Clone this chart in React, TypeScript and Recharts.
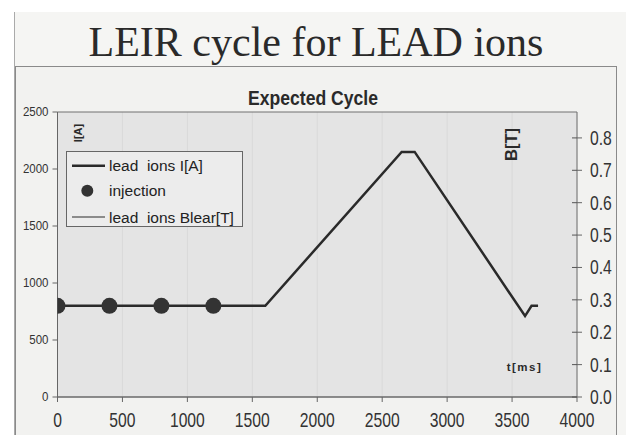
import {
  ComposedChart,
  Line,
  Scatter,
  XAxis,
  YAxis,
  CartesianGrid,
  ReferenceArea,
  Legend,
} from 'recharts';

const timeMs = [0, 1600, 2650, 2750, 3600, 3650, 3700];
const currentA = [800, 800, 2150, 2150, 710, 800, 800];
const fieldT = [0.282, 0.282, 0.757, 0.757, 0.25, 0.282, 0.282];
const injectionMs = [0, 400, 800, 1200];
const injectionA = [800, 800, 800, 800];
const timeTicks = [0, 500, 1000, 1500, 2000, 2500, 3000, 3500, 4000];
const currentTicks = [0, 500, 1000, 1500, 2000, 2500];
const fieldTicks = [0, 0.1, 0.2, 0.3, 0.4, 0.5, 0.6, 0.7, 0.8];

const currentData = timeMs.map((t, i) => ({ t, value: currentA[i] }));
const fieldData = timeMs.map((t, i) => ({ t, value: fieldT[i] }));
const injectionData = injectionMs.map((t, i) => ({ t, value: injectionA[i] }));

const SANS = '"Liberation Sans", Arial, sans-serif';
const INK = '#2a2a2a';

function LeftTick({ x, y, payload }: any) {
  return (
    <g transform={`translate(${x},${y})`}>
      <text textAnchor="end" y={3.8} fontSize={11.5} fill="#333" fontFamily={SANS} transform="scale(1,1.1)">
        {payload.value}
      </text>
    </g>
  );
}

function RightTick({ x, y, payload }: any) {
  return (
    <g transform={`translate(${x},${y})`}>
      <line x1={-18} x2={-13} y1={0} y2={0} stroke="#555" />
      <text y={5.6} fontSize={15.7} fill="#333" fontFamily={SANS} transform="scale(1,1.25)">
        {Number(payload.value).toFixed(1)}
      </text>
    </g>
  );
}

function BottomTick({ x, y, payload }: any) {
  return (
    <g transform={`translate(${x},${y})`}>
      <text textAnchor="middle" y={17.7} fontSize={15.7} fill="#333" fontFamily={SANS} transform="scale(1,1.3)">
        {payload.value}
      </text>
    </g>
  );
}

function LegendBox() {
  return (
    <svg width={177} height={76} style={{ display: 'block' }}>
      <rect x={0.5} y={0.5} width={176} height={75} fill="#ececec" stroke="#666" />
      <line x1={6} x2={39} y1={14.7} y2={14.7} stroke={INK} strokeWidth={2.5} />
      <circle cx={21.3} cy={39.7} r={6} fill="#333" />
      <line x1={6} x2={39} y1={66} y2={66} stroke={INK} strokeWidth={1.2} />
      <g fontFamily={SANS} fontSize={15.5} fill="#222">
        <text x={43} y={20.2} style={{ whiteSpace: 'pre' }}>lead  ions I[A]</text>
        <text x={43} y={45.2}>injection</text>
        <text x={43} y={71.5} style={{ whiteSpace: 'pre' }}>lead  ions Blear[T]</text>
      </g>
    </svg>
  );
}

export default function App() {
  return (
    <div style={{ position: 'absolute', left: 0, top: 0, width: 626, height: 435, background: '#fff', overflow: 'hidden' }}>
      <div style={{ position: 'absolute', left: 14, top: 12, width: 612, height: 423, background: '#f5f5f3', borderLeft: '1px solid #aaa' }} />
      <div style={{ position: 'absolute', left: 15, top: 66, width: 600, height: 380, background: '#f2f2f0', border: '1px solid #8a8a8a' }} />

      <div style={{ position: 'absolute', left: 0, top: 0 }}>
        <ComposedChart width={626} height={435} margin={{ top: 112, right: 0, bottom: 0, left: 0 }}>
          <CartesianGrid horizontal={false} vertical stroke="#d9d9d9" fill="#e4e4e4" fillOpacity={1} yAxisId="left" />
          <XAxis
            type="number"
            dataKey="t"
            domain={[0, 4000]}
            ticks={timeTicks}
            height={38}
            tickSize={5}
            tickMargin={2}
            stroke="#666"
            tick={<BottomTick />}
            allowDataOverflow
          />
          <YAxis
            yAxisId="left"
            type="number"
            domain={[0, 2500]}
            ticks={currentTicks}
            width={57.5}
            tickSize={5}
            tickMargin={4}
            stroke="#666"
            tick={<LeftTick />}
          />
          <YAxis
            yAxisId="right"
            orientation="right"
            type="number"
            domain={[0, 0.88]}
            ticks={fieldTicks}
            width={49}
            tickSize={5}
            tickMargin={8}
            stroke="#666"
            axisLine={false}
            tick={<RightTick />}
          />
          <ReferenceArea
            yAxisId="left"
            x1={0}
            x2={4000}
            y1={0}
            y2={2500}
            fill="none"
            stroke="#707070"
            strokeWidth={1}
            ifOverflow="visible"
          />
          <Line
            yAxisId="right"
            data={fieldData}
            dataKey="value"
            type="linear"
            stroke={INK}
            strokeWidth={1}
            dot={false}
            isAnimationActive={false}
            name="lead  ions Blear[T]"
          />
          <Line
            yAxisId="left"
            data={currentData}
            dataKey="value"
            type="linear"
            stroke={INK}
            strokeWidth={2.5}
            dot={false}
            isAnimationActive={false}
            name="lead  ions I[A]"
          />
          <Scatter
            yAxisId="left"
            data={injectionData}
            dataKey="value"
            fill="#333"
            isAnimationActive={false}
            name="injection"
            shape={(p: any) => <circle cx={p.cx} cy={p.cy} r={8} fill="#333" />}
          />
          <Legend
            layout="vertical"
            align="center"
            verticalAlign="middle"
            wrapperStyle={{ left: 66, top: 151, width: 177, height: 76 }}
            content={() => <LegendBox />}
          />
        </ComposedChart>
      </div>

      <svg width={626} height={435} style={{ position: 'absolute', left: 0, top: 0, pointerEvents: 'none' }}>
        <text x={316} y={56} textAnchor="middle" fontSize={42} fontFamily='"Liberation Serif", "Times New Roman", serif' fill={INK}>
          LEIR cycle for LEAD ions
        </text>
        <g transform="translate(313,105) scale(1,1.2)">
          <text textAnchor="middle" fontSize={17.6} fontWeight="bold" fontFamily={SANS} fill={INK}>
            Expected Cycle
          </text>
        </g>
        <g transform="translate(78,133) rotate(-90)">
          <text textAnchor="middle" dominantBaseline="central" fontSize={11} fontWeight="bold" fontFamily={SANS} fill={INK}>
            I[A]
          </text>
        </g>
        <g transform="translate(510.5,144.5) rotate(-90)">
          <text textAnchor="middle" dominantBaseline="central" fontSize={16.5} fontWeight="bold" fontFamily={SANS} fill={INK}>
            B[T]
          </text>
        </g>
        <text x={524.5} y={371} textAnchor="middle" fontSize={11.5} fontWeight="bold" letterSpacing={1.5} fontFamily={SANS} fill={INK}>
          t[ms]
        </text>
      </svg>
    </div>
  );
}
